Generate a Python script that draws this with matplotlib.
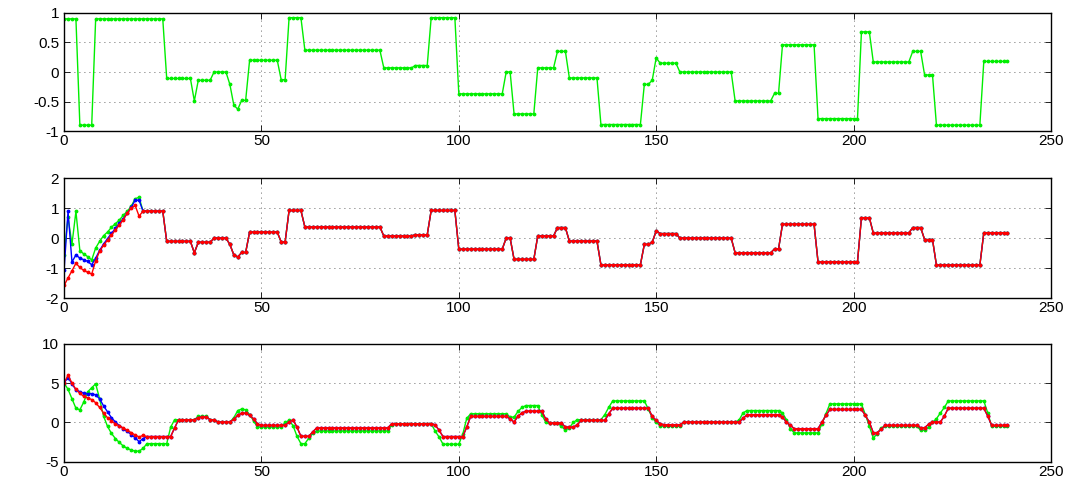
import numpy as np
import matplotlib
matplotlib.use("Agg")
import matplotlib.pyplot as plt

plt.rcParams['font.family'] = ['Liberation Sans', 'DejaVu Sans']

# top signal, stored as (value, run length)
sig_vals = [0.9, -0.9, 0.9, -0.11, -0.49, -0.14, 0.0, -0.21, -0.56, -0.63, -0.48, 0.2,
            -0.13, 0.92, 0.37, 0.07, 0.11, 0.92, -0.37, 0.0, -0.71, 0.07, 0.35, -0.1,
            -0.89, -0.21, -0.14, 0.24, 0.15, 0.0, -0.49, -0.36, 0.46, -0.79, 0.68, 0.17,
            0.35, -0.05, -0.9, 0.18]
sig_lens = [4, 4, 18, 7, 1, 4, 4, 1, 1, 1, 2, 8,
            2, 4, 20, 8, 4, 7, 12, 2, 6, 5, 3, 8,
            11, 2, 1, 1, 5, 14, 10, 2, 9, 11, 3, 10,
            3, 3, 12, 7]

# middle panel: first 20 samples differ, then all follow the top signal
mid_green_start = [-0.56, 0.69, -0.2, 0.89, -0.42, -0.53, -0.62, -0.73, -0.33, -0.11,
                   0.08, 0.2, 0.36, 0.48, 0.6, 0.76, 0.89, 1.06, 1.31, 1.36]
mid_blue_start = [-1.06, 0.89, -0.8, -0.56, -0.67, -0.72, -0.78, -0.89, -0.67, -0.41,
                  -0.2, -0.02, 0.16, 0.32, 0.49, 0.64, 0.83, 1.02, 1.26, 1.26]
mid_red_start = [-1.58, -1.33, -1.09, -0.84, -0.98, -1.08, -1.14, -1.2, -0.76, -0.44,
                 -0.24, -0.07, 0.1, 0.27, 0.44, 0.61, 0.83, 1.0, 1.09, 0.73]

# bottom panel, first 21 samples, then runs
bot_red_start = [5.0, 6.0, 5.0, 4.2, 3.7, 3.3, 3.1, 2.9, 2.5, 1.9, 1.2, 0.6, 0.2, -0.2,
                 -0.45, -0.7, -1.0, -1.3, -1.6, -1.85, -1.65]
bot_blue_start = [5.0, 5.7, 4.9, 4.15, 3.9, 3.7, 3.65, 3.65, 3.5, 3.0, 2.1, 1.35, 0.6, 0.05,
                  -0.4, -0.8, -1.15, -1.55, -1.95, -2.45, -2.05]
bot_green_start = [5.0, 4.2, 3.0, 1.8, 1.6, 2.6, 3.9, 4.4, 4.9, 3.0, 0.8, -0.5, -1.4, -2.05,
                   -2.55, -3.0, -3.3, -3.5, -3.65, -3.65, -3.3]

bot_red_vals = [-1.8, -0.7, 0.34, 0.6, 0.7, 0.34, 0.04, 0.4, 0.9, 1.18, 0.9, 0.46, -0.2,
                -0.38, 0.04, 0.34, -0.6, -1.76, -1.2, -0.7, -0.17, -0.3, -1.0, -1.8, -0.6,
                0.76, 0.46, 0.04, 0.8, 1.2, 1.43, 0.46, -0.08, -0.6, -0.3, 0.25, 1.1, 1.8,
                0.76, 0.25, -0.17, -0.3, 0.04, 0.5, 0.97, 0.67, 0.04, -0.38, -0.8, 0.04,
                0.88, 1.64, 0.88, 0.04, -1.3, -0.88, -0.38, -0.67, -0.25, 0.04, 0.8, 1.8,
                0.8, -0.38]
bot_red_lens = [7, 1, 5, 1, 2, 2, 4, 1, 1, 2, 1, 1, 1,
                7, 1, 1, 1, 3, 1, 19, 11, 1, 1, 6, 1,
                10, 1, 1, 1, 1, 5, 1, 4, 3, 1, 7, 1, 10,
                1, 1, 1, 5, 15, 1, 9, 1, 1, 1, 7, 1,
                1, 9, 1, 1, 2, 1, 9, 2, 1, 3, 1, 10,
                1, 5]

bot_green_vals = [-2.7, -0.6, 0.34, 0.76, 0.34, 0.04, 0.6, 1.5, 1.7, 1.6, 1.0, 0.2, -0.59,
                  0.0, 0.25, -0.4, -1.76, -2.7, -2.0, -1.4, -1.09, -0.3, -0.17, -1.1, -1.85,
                  -2.77, -1.5, 0.5, 1.1, 0.67, 1.4, 1.9, 2.14, 1.0, 0.04, -0.08, -0.5, -1.0,
                  -0.7, 0.0, 0.34, 1.0, 1.93, 2.73, 1.7, 0.6, 0.0, -0.4, -0.5, 0.0, 0.3,
                  1.2, 1.5, 1.2, 0.34, -0.8, -1.34, -0.17, 1.1, 2.35, 0.97, -0.46, -2.0,
                  -1.43, -0.7, -0.46, -1.0, -0.6, 0.0, 0.46, 1.2, 1.9, 2.73, 1.2, -0.5]
bot_green_lens = [6, 1, 6, 3, 2, 4, 1, 1, 1, 1, 1, 1, 7,
                  1, 1, 1, 1, 2, 1, 1, 19, 1, 10, 1, 1,
                  5, 1, 1, 10, 2, 1, 1, 4, 1, 1, 3, 1, 1,
                  1, 1, 7, 1, 1, 9, 1, 1, 1, 1, 5, 14, 1,
                  1, 9, 1, 1, 1, 7, 1, 1, 9, 1, 1, 1,
                  1, 1, 9, 2, 1, 1, 1, 1, 1, 10, 1, 5]

sig = np.repeat(sig_vals, sig_lens)
mid_green = np.concatenate([mid_green_start, sig[20:]])
mid_blue = np.concatenate([mid_blue_start, sig[20:]])
mid_red = np.concatenate([mid_red_start, sig[20:]])
bot_red_tail = np.repeat(bot_red_vals, bot_red_lens)
bot_red = np.concatenate([bot_red_start, bot_red_tail])
bot_blue = np.concatenate([bot_blue_start, bot_red_tail])
bot_green = np.concatenate([bot_green_start, np.repeat(bot_green_vals, bot_green_lens)])

GREEN = '#00ee00'
BLUE = '#0000ff'
RED = '#ff0000'

fig = plt.figure(figsize=(10.68, 4.8), dpi=100)
L, W = 0.06, 0.924
ax1 = fig.add_axes([L, 0.727, W, 0.246])
ax2 = fig.add_axes([L, 0.379, W, 0.25])
ax3 = fig.add_axes([L, 0.038, W, 0.246])

def mline(ax, y, color):
    ax.plot(np.arange(len(y)), y, '-', color=color, lw=1.0, marker='.', ms=3.5)

mline(ax1, sig, GREEN)
for y, c in [(mid_green, GREEN), (mid_blue, BLUE), (mid_red, RED)]:
    mline(ax2, y, c)
for y, c in [(bot_green, GREEN), (bot_blue, BLUE), (bot_red, RED)]:
    mline(ax3, y, c)

limits = [(-1, 1, [-1, -0.5, 0, 0.5, 1]), (-2, 2, [-2, -1, 0, 1, 2]), (-5, 10, [-5, 0, 5, 10])]
for ax, (lo, hi, ticks) in zip([ax1, ax2, ax3], limits):
    ax.set_xlim(0, 250)
    ax.set_ylim(lo, hi)
    ax.set_yticks(ticks)
    ax.set_yticklabels([('%g' % t) for t in ticks])
    ax.set_xticks([0, 50, 100, 150, 200, 250])
    ax.grid(True, color='0.2', linestyle=(0, (1, 5)), linewidth=0.6)
    ax.tick_params(direction='in', top=True, right=True, length=4, width=0.6,
                   labelsize=11)
    ax.tick_params(axis='x', pad=2)
    for sp in ax.spines.values():
        sp.set_linewidth(1.0)

fig.savefig('out.png', dpi=100)
